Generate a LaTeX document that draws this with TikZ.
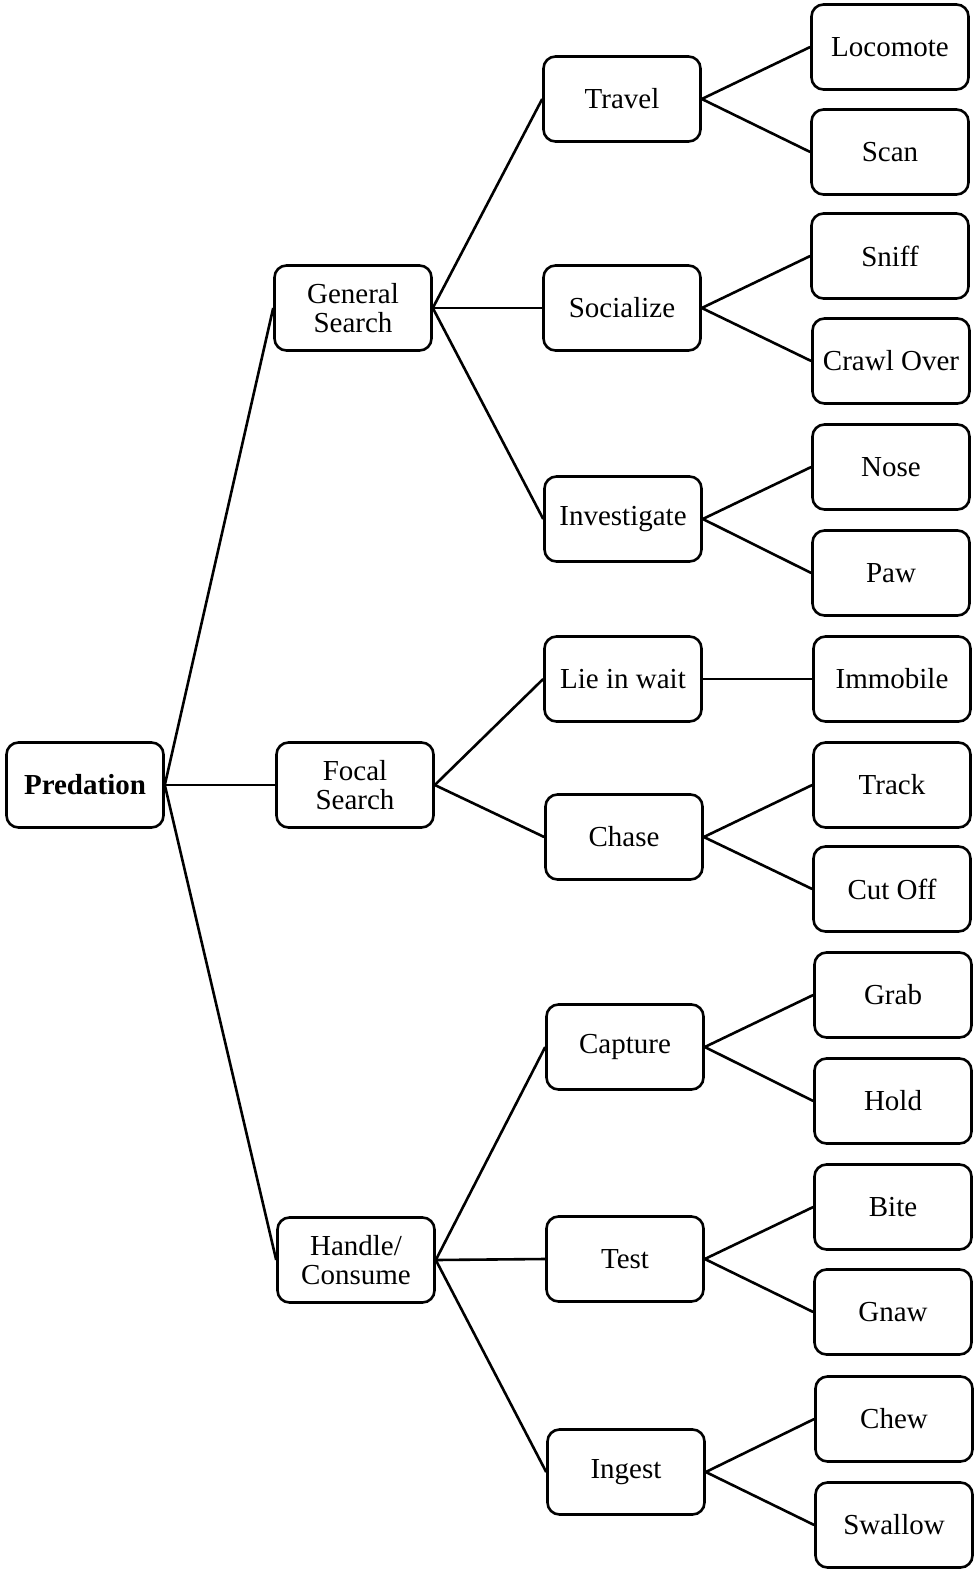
\documentclass[tikz,border=0pt]{standalone}
\usepackage{fontspec}
\setmainfont{Liberation Serif}
\begin{document}
\begin{tikzpicture}[x=0.5pt,y=-0.5pt,line width=1.3pt,
box/.style={draw=black, fill=white, rounded corners=6pt, minimum width=78.5pt, minimum height=42.5pt, inner sep=1pt, align=center, font=\fontsize{14.5}{14.5}\selectfont}]
\useasboundingbox (0,0) rectangle (976,1572);
% root and first level
\node[box] (pred) at (85,785) {\textbf{Predation}};
\node[box] (gen) at (353,308) {General\\Search};
\node[box] (foc) at (355,785) {Focal\\Search};
\node[box] (hand) at (356,1260) {Handle/\\Consume};
% second level
\node[box] (trav) at (622,99) {Travel};
\node[box] (soc) at (622,308) {Socialize};
\node[box] (inv) at (623,519) {Investigate};
\node[box] (lie) at (623,679) {Lie in wait};
\node[box] (chase) at (624,837) {Chase};
\node[box] (capt) at (625,1047) {Capture};
\node[box] (test) at (625,1259) {Test};
\node[box] (ing) at (626,1472) {Ingest};
% leaves
\node[box] (loco) at (890,47) {Locomote};
\node[box] (scan) at (890,152) {Scan};
\node[box] (sniff) at (890,256) {Sniff};
\node[box] (crawl) at (891,361) {Crawl Over};
\node[box] (nose) at (891,467) {Nose};
\node[box] (paw) at (891,573) {Paw};
\node[box] (immo) at (892,679) {Immobile};
\node[box] (track) at (892,785) {Track};
\node[box] (cut) at (892,889) {Cut Off};
\node[box] (grab) at (893,995) {Grab};
\node[box] (hold) at (893,1101) {Hold};
\node[box] (bite) at (893,1207) {Bite};
\node[box] (gnaw) at (893,1312) {Gnaw};
\node[box] (chew) at (894,1419) {Chew};
\node[box] (swal) at (894,1525) {Swallow};
% connectors
\foreach \a/\b in {pred/gen,pred/foc,pred/hand,
gen/trav,gen/soc,gen/inv,foc/lie,foc/chase,hand/capt,hand/test,hand/ing,
trav/loco,trav/scan,soc/sniff,soc/crawl,inv/nose,inv/paw,lie/immo,
chase/track,chase/cut,capt/grab,capt/hold,test/bite,test/gnaw,ing/chew,ing/swal}
\draw (\a.east)--(\b.west);
\end{tikzpicture}
\end{document}
